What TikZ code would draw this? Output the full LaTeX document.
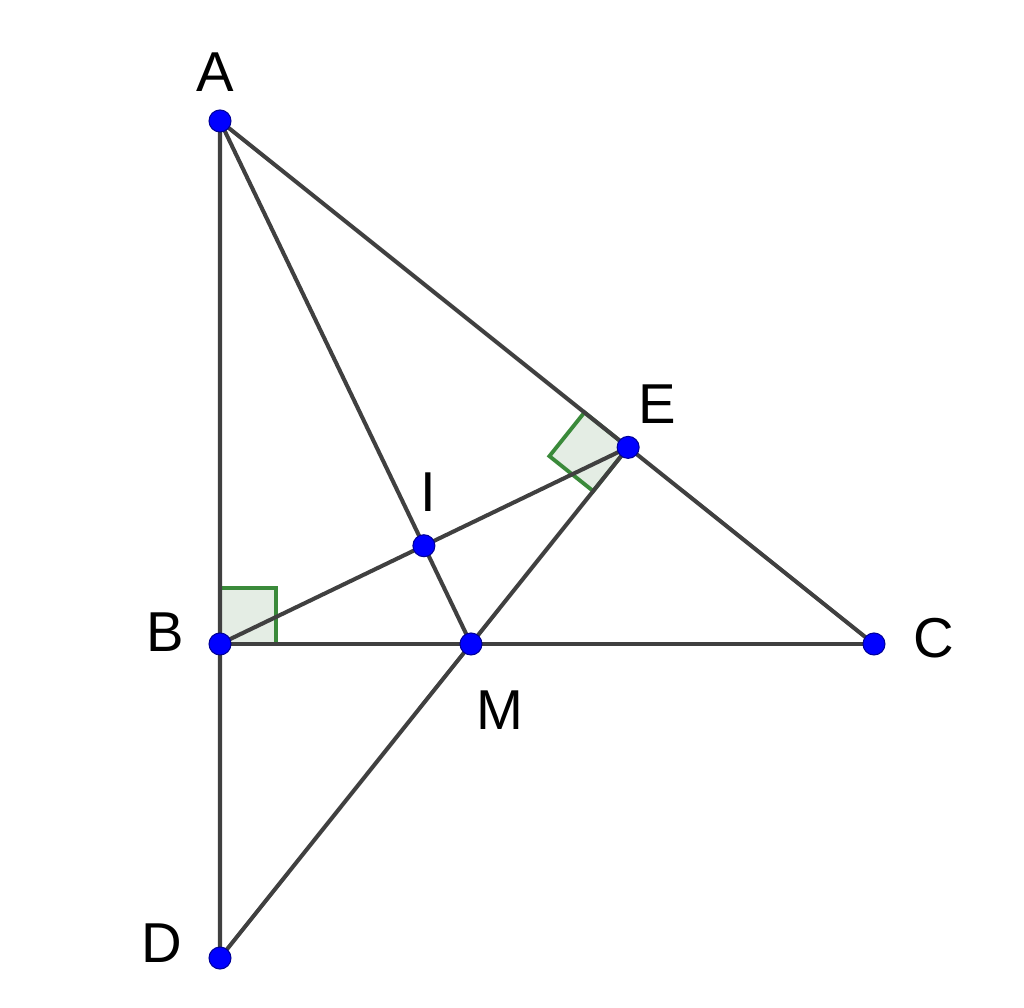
\documentclass[tikz,border=0pt]{standalone}
\usepackage{fontspec}
\setmainfont{Liberation Sans}
\usetikzlibrary{calc}
\definecolor{seg}{HTML}{404040}
\definecolor{angfill}{HTML}{E4EDE4}
\definecolor{angline}{HTML}{3A8A3A}
\tikzset{
  segline/.style={draw=seg,line width=1.15pt},
  ptdot/.style={circle,fill=blue,draw=blue!60!black,line width=0.3pt,inner sep=0pt,minimum size=0.22cm},
  lbl/.style={inner sep=0pt,font=\fontsize{16}{19}\selectfont},
  rightmark/.style={fill=angfill,draw=angline,line width=1.1pt}
}
\begin{document}
\begin{tikzpicture}
\useasboundingbox (0,0) rectangle (10.24,10.08);
\coordinate (A) at (2.20,8.87);
\coordinate (B) at (2.20,3.64);
\coordinate (C) at (8.74,3.64);
\coordinate (M) at (4.71,3.64);
\coordinate (E) at ($(A)!(M)!(C)$);
\coordinate (D) at (intersection of M--E and A--B);
\coordinate (I) at (intersection of A--M and B--E);
% right-angle marks
\coordinate (Bx) at ($(B)+(0.56,0)$);
\coordinate (By) at ($(B)+(0,0.56)$);
\coordinate (Bxy) at ($(B)+(0.56,0.56)$);
\path[rightmark] (B) -- (Bx) -- (Bxy) -- (By) -- cycle;
\coordinate (Ea) at ($(E)!0.56cm!(A)$);
\coordinate (Em) at ($(E)!0.56cm!(M)$);
\coordinate (Eam) at ($(Ea)+(Em)-(E)$);
\path[rightmark] (E) -- (Ea) -- (Eam) -- (Em) -- cycle;
% segments
\draw[segline] (A) -- (D);
\draw[segline] (B) -- (C);
\draw[segline] (A) -- (C);
\draw[segline] (A) -- (M);
\draw[segline] (B) -- (E);
\draw[segline] (D) -- (E);
% points
\foreach \p in {A,B,C,D,E,I,M} \node[ptdot] (dot\p) at (\p) {};
% labels
\node[lbl] (lA) at (2.15,9.36) {A};
\node[lbl] (lB) at (1.65,3.76) {B};
\node[lbl] (lC) at (9.34,3.70) {C};
\node[lbl] (lD) at (1.62,0.65) {D};
\node[lbl] (lE) at (6.57,6.04) {E};
\node[lbl] (lI) at (4.28,5.16) {I};
\node[lbl] (lM) at (5.00,2.98) {M};
\end{tikzpicture}
\end{document}
